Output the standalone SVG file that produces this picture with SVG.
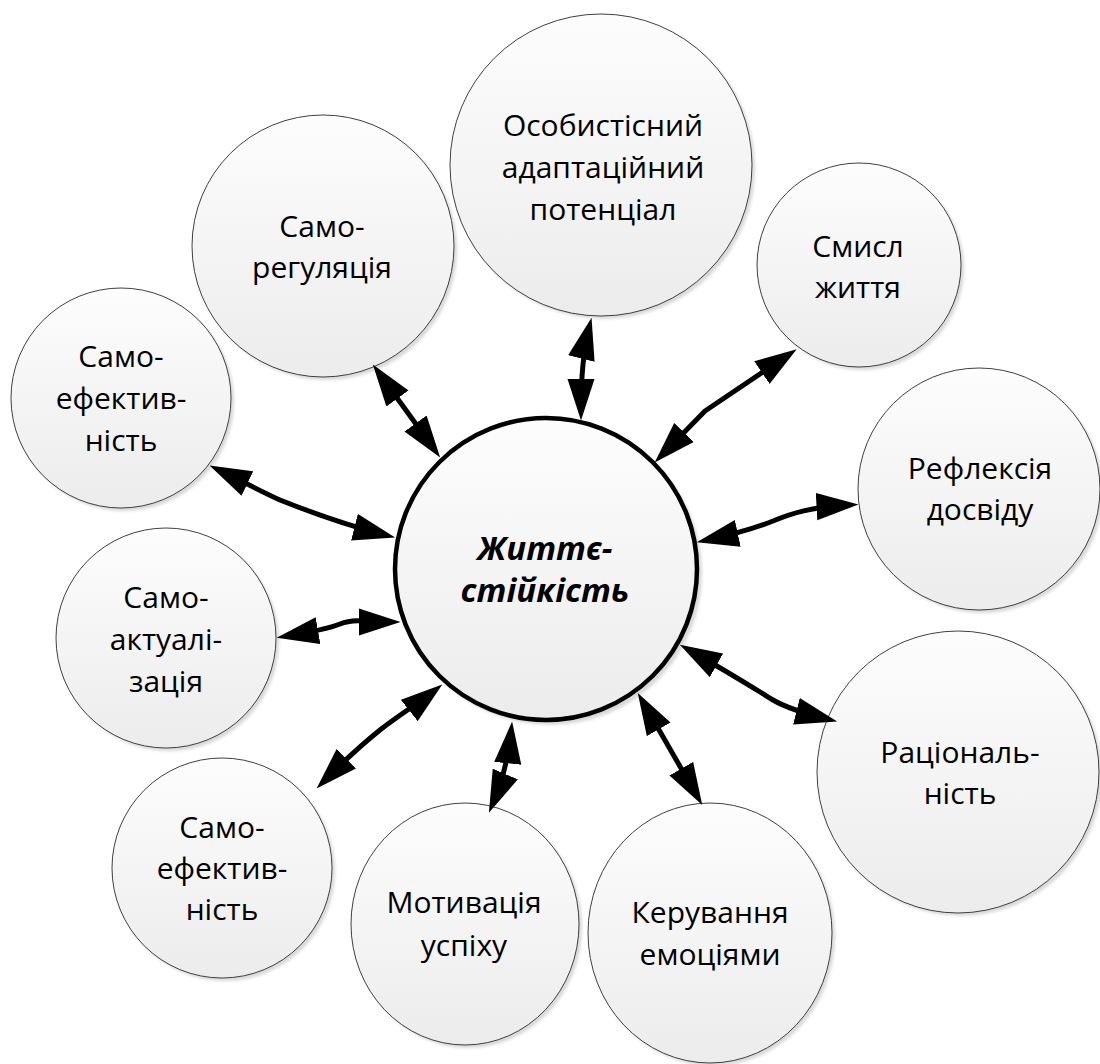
<svg xmlns="http://www.w3.org/2000/svg" width="1100" height="1064" viewBox="0 0 1100 1064">
<style>
.nd{fill:url(#g);stroke:#404040;stroke-width:1}
.sh{fill:#d9d9d9;filter:url(#blur)}
.ctr{fill:url(#g);stroke:#000;stroke-width:4.5}
.t{font-family:"Open Sans","Noto Sans","Liberation Sans",sans-serif;font-size:30px;fill:#000;text-anchor:middle}
.tc{font-family:"Open Sans","Noto Sans","Liberation Sans",sans-serif;font-size:33px;font-weight:bold;font-style:italic;fill:#000;text-anchor:middle}
.c{fill:none;stroke:#000;stroke-width:5;stroke-linejoin:round;marker-start:url(#ah);marker-end:url(#ah)}
</style>
<defs>
<linearGradient id="g" x1="0" y1="0" x2="0" y2="1">
<stop offset="0" stop-color="#fdfdfd"/>
<stop offset="1" stop-color="#ececec"/>
</linearGradient>
<filter id="blur" x="-10%" y="-10%" width="120%" height="120%"><feGaussianBlur stdDeviation="1.5"/></filter>
<marker id="ah" markerUnits="userSpaceOnUse" markerWidth="42" markerHeight="28" viewBox="0 0 40 26" refX="30" refY="13" orient="auto-start-reverse">
<path d="M0,0 L40,13 L0,26 z" fill="#000"/>
</marker>
</defs>
<rect width="1100" height="1064" fill="#fff"/>

<g id="n1">
<circle class="sh" cx="604" cy="168" r="151"/>
<circle class="nd" cx="601" cy="165" r="151"/>
<text class="t" x="603" y="136">Особистісний</text>
<text class="t" x="603" y="178">адаптаційний</text>
<text class="t" x="603" y="220">потенціал</text>
</g>
<g id="n2">
<circle class="sh" cx="326" cy="249" r="131"/>
<circle class="nd" cx="323" cy="246" r="131"/>
<text class="t" x="322" y="237">Само-</text>
<text class="t" x="322" y="278">регуляція</text>
</g>
<g id="n3">
<circle class="sh" cx="862" cy="268" r="102"/>
<circle class="nd" cx="859" cy="265" r="102"/>
<text class="t" x="858" y="257">Смисл</text>
<text class="t" x="858" y="298">життя</text>
</g>
<g id="n4">
<circle class="sh" cx="124" cy="401" r="110"/>
<circle class="nd" cx="121" cy="398" r="110"/>
<text class="t" x="121" y="367">Само-</text>
<text class="t" x="121" y="409">ефектив-</text>
<text class="t" x="121" y="451">ність</text>
</g>
<g id="n5">
<circle class="sh" cx="982" cy="492" r="121"/>
<circle class="nd" cx="979" cy="489" r="121"/>
<text class="t" x="980" y="479">Рефлексія</text>
<text class="t" x="980" y="520">досвіду</text>
</g>
<g id="n6">
<circle class="sh" cx="169" cy="641" r="110"/>
<circle class="nd" cx="166" cy="638" r="110"/>
<text class="t" x="166" y="608">Само-</text>
<text class="t" x="166" y="650">актуалі-</text>
<text class="t" x="166" y="692">зація</text>
</g>
<g id="n7">
<circle class="sh" cx="961" cy="775" r="141"/>
<circle class="nd" cx="958" cy="772" r="141"/>
<text class="t" x="960" y="763">Раціональ-</text>
<text class="t" x="960" y="804">ність</text>
</g>
<g id="n8">
<circle class="sh" cx="225" cy="871" r="110"/>
<circle class="nd" cx="222" cy="868" r="110"/>
<text class="t" x="222" y="838">Само-</text>
<text class="t" x="222" y="879">ефектив-</text>
<text class="t" x="222" y="920">ність</text>
</g>
<g id="n9">
<ellipse class="sh" cx="468" cy="927" rx="114" ry="121"/>
<ellipse class="nd" cx="465" cy="924" rx="114" ry="121"/>
<text class="t" x="464" y="913">Мотивація</text>
<text class="t" x="464" y="956">успіху</text>
</g>
<g id="n10">
<ellipse class="sh" cx="713" cy="936" rx="122" ry="130"/>
<ellipse class="nd" cx="710" cy="933" rx="122" ry="130"/>
<text class="t" x="710" y="923">Керування</text>
<text class="t" x="710" y="965">емоціями</text>
</g>
<g id="center">
<circle class="sh" cx="550" cy="573" r="152"/>
<circle class="ctr" cx="546" cy="569" r="151"/>
<text class="tc" x="545" y="560">Життє-</text>
<text class="tc" x="545" y="602">стійкість</text>
</g>

<g id="connectors">
<path class="c" d="M589,328 Q581,360 581,410"/>
<path class="c" d="M788,355 L705,411 L662,455"/>
<path class="c" d="M848,505 C810,507 790,514 773,521 C758,527 730,535 707,540"/>
<path class="c" d="M827,719 C815,716 790,710 773,700 C760,692 730,673 689,650"/>
<path class="c" d="M697,796 L643,702"/>
<path class="c" d="M493,803 Q507,770 511,732"/>
<path class="c" d="M324,781 C345,760 365,742 380,730 C395,718 420,702 434,691"/>
<path class="c" d="M287,636 C310,632 325,630 340,624 S375,622 390,622"/>
<path class="c" d="M219,470 C240,480 262,492 280,500 C310,512 350,526 385,535"/>
<path class="c" d="M379,373 L434,449"/>
</g>
</svg>
